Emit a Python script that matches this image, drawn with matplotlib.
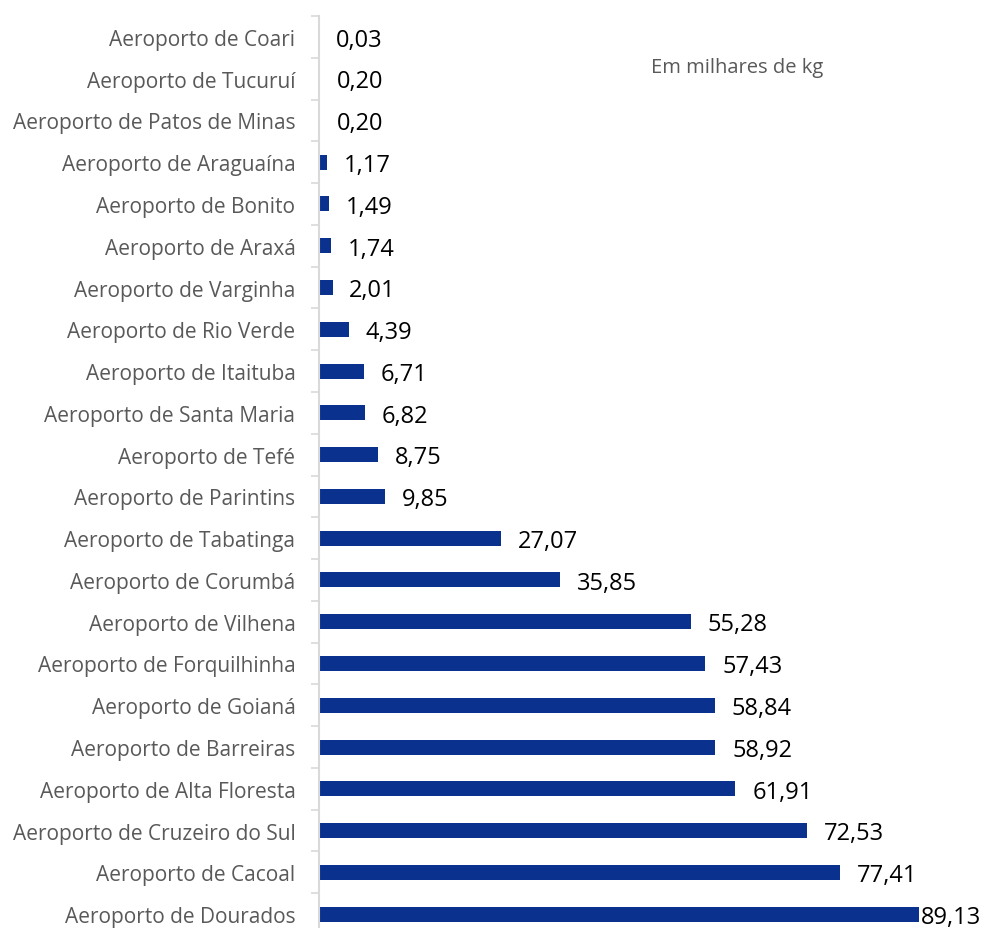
import matplotlib.pyplot as plt
from matplotlib.ticker import FixedLocator, NullLocator

# === DATA ===
airports = [
    "Aeroporto de Coari", "Aeroporto de Tucuruí", "Aeroporto de Patos de Minas",
    "Aeroporto de Araguaína", "Aeroporto de Bonito", "Aeroporto de Araxá",
    "Aeroporto de Varginha", "Aeroporto de Rio Verde", "Aeroporto de Itaituba",
    "Aeroporto de Santa Maria", "Aeroporto de Tefé", "Aeroporto de Parintins",
    "Aeroporto de Tabatinga", "Aeroporto de Corumbá", "Aeroporto de Vilhena",
    "Aeroporto de Forquilhinha", "Aeroporto de Goianá", "Aeroporto de Barreiras",
    "Aeroporto de Alta Floresta", "Aeroporto de Cruzeiro do Sul",
    "Aeroporto de Cacoal", "Aeroporto de Dourados",
]
values = [0.03, 0.20, 0.20, 1.17, 1.49, 1.74, 2.01, 4.39, 6.71, 6.82, 8.75, 9.85,
          27.07, 35.85, 55.28, 57.43, 58.84, 58.92, 61.91, 72.53, 77.41, 89.13]

bar_color = "#0B318F"
grey = "#D9D9D9"
font = ["Open Sans", "DejaVu Sans"]

fig = plt.figure(figsize=(9.87, 9.29), dpi=100)
ax = fig.add_axes([319 / 987, -7 / 929, 668 / 987, 919 / 929])

n = len(airports)
ypos = [n - 1 - i for i in range(n)]  # first airport on top
ax.barh(ypos, values, height=0.36, color=bar_color)

for y, v in zip(ypos, values):
    label = f"{v:.2f}".replace(".", ",")
    off = 2 if v == max(values) else 12
    ax.annotate(label, (v, y), xytext=(off, -2), textcoords="offset points",
                ha="left", va="center", fontsize=17, color="black", family=font)

ax.set_xlim(0, 99.3)
ax.set_ylim(-0.5, n - 0.5)

ax.set_yticks(ypos)
ax.set_yticklabels(airports, fontsize=15, color="#595959", family=font)
ax.yaxis.set_minor_locator(FixedLocator([i + 0.5 for i in range(-1, n)]))
ax.tick_params(axis="y", which="major", length=0, pad=17)
ax.tick_params(axis="y", which="minor", length=6, width=1.2, color=grey, direction="out")
ax.xaxis.set_major_locator(NullLocator())

for s in ["top", "right", "bottom"]:
    ax.spines[s].set_visible(False)
ax.spines["left"].set_color(grey)
ax.spines["left"].set_linewidth(1.5)

fig.text(651 / 987, 1 - 68 / 929, "Em milhares de kg", ha="left", va="center",
         fontsize=14.5, color="#595959", family=font)

fig.savefig("out.png", dpi=100)
